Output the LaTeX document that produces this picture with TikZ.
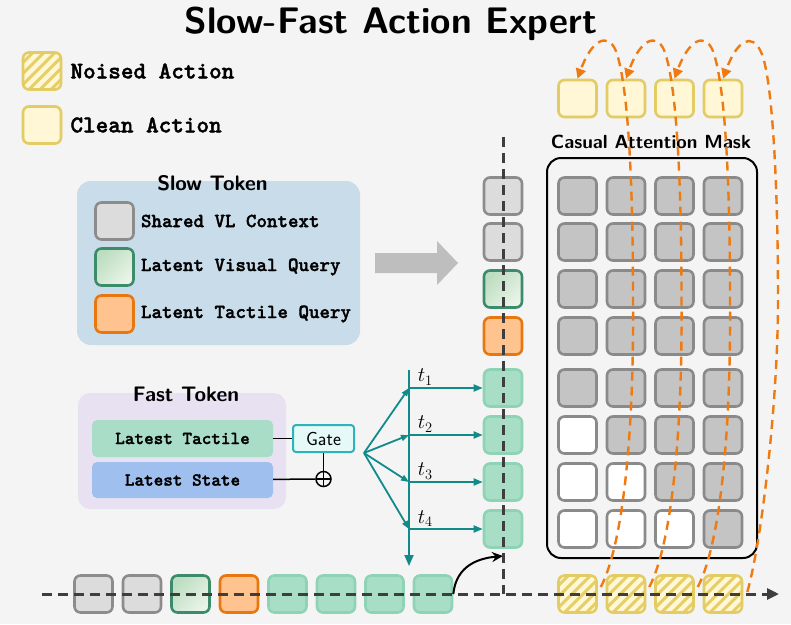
\documentclass[tikz,border=0pt]{standalone}
\usepackage{fontspec}
\setmonofont{lmmonolt10-regular.otf}[BoldFont=lmmonolt10-bold.otf, BoldFeatures={FakeBold=1.6}]
\usepackage{tikz}
\usetikzlibrary{arrows.meta,positioning,calc,shapes}
\definecolor{canvas}{HTML}{F4F4F4}
\definecolor{ctxfill}{HTML}{DCDCDC}
\definecolor{ctxline}{HTML}{8C8C8C}
\definecolor{visdark}{HTML}{BCDDC0}
\definecolor{vislight}{HTML}{EAF4E8}
\definecolor{visline}{HTML}{3C8C6C}
\definecolor{tacfill}{HTML}{FFC38F}
\definecolor{tacline}{HTML}{E8770F}
\definecolor{fastfill}{HTML}{A8DEC6}
\definecolor{fastline}{HTML}{8FD3B6}
\definecolor{actfill}{HTML}{FFF7D5}
\definecolor{actline}{HTML}{E2CC63}
\definecolor{actdark}{HTML}{E6CF68}
\definecolor{maskfill}{HTML}{C4C4C4}
\definecolor{maskline}{HTML}{8A8A8A}
\definecolor{slowbg}{HTML}{C9DCEA}
\definecolor{fastbg}{HTML}{E8E1F2}
\definecolor{tactfield}{HTML}{A9DDC8}
\definecolor{statefield}{HTML}{9FBFEE}
\definecolor{gateline}{HTML}{2DB3BA}
\definecolor{gatefill}{HTML}{E6F9F9}
\definecolor{tealc}{HTML}{138A8A}
\definecolor{flow}{HTML}{EE7A12}
\definecolor{axisgray}{HTML}{3E3E3E}
\definecolor{arrowgray}{HTML}{BEBEBE}

\begin{document}
\begin{tikzpicture}[
    x=1pt, y=-1pt,
    >=Stealth,
    tok/.style={rounded corners=6pt, minimum width=38pt, minimum height=37pt, line width=2.6pt, inner sep=0pt},
    graytok/.style={tok, draw=ctxline, fill=ctxfill},
    vistok/.style={tok, draw=visline, top color=visdark, bottom color=vislight, shading angle=45},
    tactok/.style={tok, draw=tacline, fill=tacfill},
    fasttok/.style={tok, draw=fastline, fill=fastfill},
    cleantok/.style={tok, draw=actline, fill=actfill},
    noisedtok/.style={tok, draw=actline, fill=actdark, path picture={
        \foreach \s in {-44,-33,...,44}
            \draw[actfill, line width=4.5pt] ($(path picture bounding box.center)+(\s-30,30)$) -- ++(60,-60);}},
    maskon/.style={tok, draw=maskline, fill=maskfill},
    maskoff/.style={tok, draw=maskline, fill=white},
    legend/.style={anchor=west, inner sep=2pt, font=\fontsize{20}{24}\selectfont\ttfamily\bfseries},
    heading/.style={anchor=base, font=\fontsize{21}{25}\selectfont\sffamily\bfseries},
    field/.style={rounded corners=5pt, minimum width=181pt, minimum height=37pt, font=\fontsize{18.3}{22}\selectfont\ttfamily\bfseries},
    wire/.style={line width=1.5pt, black},
    dashaxis/.style={draw=axisgray, line width=3pt, dash pattern=on 10pt off 6pt},
    tealarrow/.style={draw=tealc, line width=1.8pt, -{Triangle[length=9pt, width=7pt]}},
    flowarrow/.style={draw=flow, line width=2.4pt, dash pattern=on 9pt off 6pt, -{Triangle[length=10pt, width=10pt]}}
]
    \useasboundingbox (0,0) rectangle (791,624);
    \fill[canvas] (0,0) rectangle (791,624);

    \node[heading, font=\fontsize{37}{40}\selectfont\sffamily\bfseries] (title) at (391,33) {Slow-Fast Action Expert};

    % Legend
    \node[noisedtok] (key-noised) at (42,71) {};
    \node[legend, font=\fontsize{24}{28}\selectfont\ttfamily\bfseries, right=6pt of key-noised] {Noised Action};
    \node[cleantok] (key-clean) at (42,125) {};
    \node[legend, font=\fontsize{24}{28}\selectfont\ttfamily\bfseries, right=6pt of key-clean] {Clean Action};

    % Slow Token
    \node[rounded corners=14pt, fill=slowbg, minimum width=283pt, minimum height=164pt] (slowpanel) at (218.5,263) {};
    \node[heading] at (212.5,190) {Slow Token};
    \node[graytok] (key-ctx) at (114.5,221) {};
    \node[legend, right=4pt of key-ctx] {Shared VL Context};
    \node[vistok] (key-vis) at (114.5,267) {};
    \node[legend, right=4pt of key-vis] {Latent Visual Query};
    \node[tactok] (key-tac) at (114.5,314) {};
    \node[legend, right=4pt of key-tac] {Latent Tactile Query};

    \fill[arrowgray] (375,253) -- (437,253) -- (437,241) -- (458,263) -- (437,285) -- (437,273) -- (375,273) -- cycle;

    % Fast Token
    \node[rounded corners=12pt, fill=fastbg, minimum width=208pt, minimum height=116pt] (fastpanel) at (182,451) {};
    \node[heading] at (186,401) {Fast Token};
    \node[field, fill=tactfield] (tactile) at (182.5,438.5) {Latest Tactile};
    \node[field, fill=statefield, minimum height=36pt] (state) at (182.5,480) {Latest State};
    \node[draw=gateline, fill=gatefill, line width=2pt, rounded corners=3pt, minimum width=61pt, minimum height=27pt, inner sep=0pt,
          font=\fontsize{19}{22}\selectfont\sffamily] (gate) at (323.5,438.5) {Gate};
    \node[circle, draw, line width=1.5pt, minimum size=15pt, inner sep=0pt, path picture={
          \draw[line width=1.5pt] (path picture bounding box.north) -- (path picture bounding box.south)
                (path picture bounding box.west) -- (path picture bounding box.east);}] (sum) at (323.5,479) {};
    \draw[wire] (tactile) -- (gate);
    \draw[wire] (state) -- (sum);
    \draw[wire] (gate) -- (sum);

    % Token column and sequence
    \node[graytok] (col-1) at (503,196) {};
    \node[graytok] (col-2) at (503,242) {};
    \node[vistok] (col-3) at (503,289) {};
    \node[tactok] (col-4) at (503,336) {};
    \node[fasttok] (col-5) at (503,388) {};
    \node[fasttok] (col-6) at (503,435) {};
    \node[fasttok] (col-7) at (503,482) {};
    \node[fasttok] (col-8) at (503,529) {};
    \foreach \k/\sty in {1/graytok, 2/graytok, 3/vistok, 4/tactok, 5/fasttok, 6/fasttok, 7/fasttok, 8/fasttok}
        \node[\sty] (seq-\k) at ({93.5+48.5*(\k-1)},594) {};

    % Casual Attention Mask
    \node[draw, line width=2pt, rounded corners=14pt, minimum width=210pt, minimum height=400pt] (mask) at (652,358) {};
    \node[heading, font=\fontsize{19}{22}\selectfont\sffamily\bfseries] at (651,148) {Casual Attention Mask};
    \foreach \r in {1,...,8}
        \foreach \c in {1,...,4} {
            \ifnum\numexpr\r-5\relax<\c
                \node[maskon] (cell-\r-\c) at ($(col-\r)+({74.5+48.5*(\c-1)},0)$) {};
            \else
                \node[maskoff] (cell-\r-\c) at ($(col-\r)+({74.5+48.5*(\c-1)},0)$) {};
            \fi
        }
    \foreach \c in {1,...,4} {
        \node[cleantok] (clean-\c) at ({577.5+48.5*(\c-1)},98.5) {};
        \node[noisedtok] (noised-\c) at ({577.5+48.5*(\c-1)},594) {};
    }

    % Fast path
    \coordinate (fan) at (364,453);
    \coordinate (bustop) at (409,370);
    \coordinate (busbot) at (409,566);
    \draw[tealarrow, -{Triangle[length=11pt, width=9pt]}] (bustop) -- (busbot);
    \foreach \k/\j in {1/5, 2/6, 3/7, 4/8} {
        \coordinate (tap-\k) at (bustop |- col-\j);
        \draw[tealarrow, -{Triangle[length=8pt, width=6pt]}] (fan) -- (tap-\k);
        \draw[tealarrow] (tap-\k) -- node[pos=0.22, above, inner sep=2pt, font=\fontsize{20}{24}\selectfont] {$t_\k$} (col-\j.west);
    }
    \coordinate (join) at (503,556);
    \draw[line width=2pt, -{Stealth[length=11pt, width=10pt]}] (seq-8.east) .. controls +(3,-30) and +(-22,2) .. (join);

    % Axes (on top of the tokens)
    \coordinate (coltop) at (503,137);
    \coordinate (axisstart) at (42,594);
    \coordinate (axisend) at (779,594);
    \draw[dashaxis] (coltop) -- (col-1.center) -- (col-4.center) -- (col-8.center) -- (coltop |- axisend);
    \draw[dashaxis, -{Triangle[length=12pt, width=11pt]}] (axisstart) -- (seq-4.center) -- (seq-8.center) -- (axisend);

    % Denoising flow
    \foreach \c in {1,2,3} {
        \pgfmathsetmacro{\xc}{577.5+48.5*(\c-1)}
        \draw[flowarrow] ($(noised-\c.east)+(3,-7)$) .. controls ({\xc+47.5},540) and ({\xc+56.5},420) .. ({\xc+55.5},300)
            .. controls ({\xc+55.5},150) and ({\xc+48},75) .. ({\xc+38},50)
            .. controls ({\xc+30},32) and ({\xc+14},40) .. (clean-\c.north);
    }
    \draw[flowarrow] ($(noised-4.east)+(4,-2)$) .. controls (762,540) and (778,400) .. (778,300)
        .. controls (778,180) and (772,75) .. (761,52)
        .. controls (752,32) and (737,40) .. (clean-4.north);

\end{tikzpicture}
\end{document}
